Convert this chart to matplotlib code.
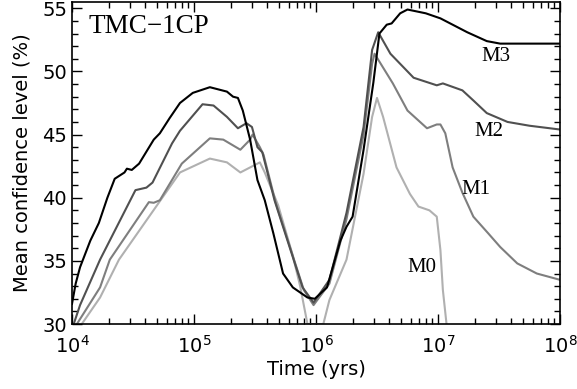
import numpy as np
import matplotlib
matplotlib.use('Agg')
import matplotlib.pyplot as plt
from matplotlib.ticker import MultipleLocator, LogLocator, NullFormatter

# log10(time / yr) and mean confidence level (%)
logt_M3 = [4.0, 4.03, 4.066, 4.15, 4.22, 4.29, 4.35, 4.43, 4.45, 4.49, 4.55,
           4.67, 4.72, 4.80, 4.885, 4.99, 5.13, 5.27, 5.32, 5.36, 5.40, 5.46,
           5.52, 5.58, 5.65, 5.73, 5.81, 5.93, 5.99, 6.09, 6.20, 6.25, 6.30,
           6.39, 6.47, 6.52, 6.58, 6.62, 6.69, 6.75, 6.90, 7.02, 7.24, 7.40,
           7.51, 8.0]
conf_M3 = [31.6, 33.2, 34.5, 36.6, 38.0, 40.0, 41.5, 42.0, 42.3, 42.2, 42.7,
           44.6, 45.1, 46.3, 47.5, 48.3, 48.75, 48.4, 48.0, 47.9, 46.9, 44.6,
           41.4, 39.8, 37.2, 34.0, 32.9, 32.1, 32.0, 32.9, 36.6, 37.7, 38.5,
           43.8, 49.1, 53.0, 53.7, 53.8, 54.6, 54.9, 54.6, 54.2, 53.1, 52.4,
           52.2, 52.2]

logt_M2 = [4.0, 4.066, 4.23, 4.52, 4.61, 4.66, 4.82, 4.885, 5.07, 5.16, 5.27,
           5.36, 5.43, 5.475, 5.52, 5.56, 5.66, 5.79, 5.89, 5.98, 6.11, 6.25,
           6.39, 6.46, 6.51, 6.61, 6.80, 6.99, 7.04, 7.20, 7.29, 7.40, 7.57,
           7.75, 8.0]
conf_M2 = [29.6, 31.5, 35.1, 40.6, 40.8, 41.2, 44.3, 45.3, 47.4, 47.3, 46.4,
           45.5, 45.9, 45.6, 44.0, 43.6, 39.8, 35.9, 32.9, 31.7, 33.5, 38.8,
           45.6, 51.7, 53.1, 51.4, 49.5, 48.9, 49.05, 48.5, 47.7, 46.7, 46.0,
           45.7, 45.4]

logt_M1 = [4.02, 4.04, 4.23, 4.31, 4.63, 4.67, 4.72, 4.90, 5.13, 5.24, 5.38,
           5.46, 5.48, 5.54, 5.57, 5.67, 5.80, 5.90, 5.98, 6.11, 6.25, 6.39,
           6.46, 6.48, 6.63, 6.75, 6.91, 6.99, 7.02, 7.06, 7.12, 7.20, 7.29,
           7.41, 7.51, 7.65, 7.81, 8.0]
conf_M1 = [29.6, 30.0, 32.9, 35.1, 39.65, 39.6, 39.8, 42.7, 44.7, 44.6, 43.8,
           44.6, 45.0, 44.0, 43.4, 39.6, 35.7, 32.7, 31.5, 33.2, 38.3, 45.0,
           50.6, 51.4, 49.05, 46.9, 45.5, 45.8, 45.8, 45.1, 42.4, 40.4, 38.5,
           37.2, 36.1, 34.8, 34.0, 33.5]

logt_M0 = [4.06, 4.08, 4.23, 4.385, 4.885, 5.13, 5.27, 5.38, 5.46, 5.54, 5.58,
           5.69, 5.81, 5.87, 5.93, 6.06, 6.11, 6.25, 6.39, 6.46, 6.50, 6.55,
           6.66, 6.77, 6.84, 6.93, 6.99, 7.02, 7.04, 7.07]
conf_M0 = [29.6, 30.0, 32.1, 35.1, 42.0, 43.1, 42.8, 42.0, 42.4, 42.8, 42.0,
           39.4, 35.4, 33.0, 30.0, 30.0, 31.9, 35.1, 41.9, 46.4, 47.9, 46.4,
           42.4, 40.3, 39.3, 39.0, 38.5, 35.85, 32.7, 30.0]

model_names = ['M0', 'M1', 'M2', 'M3']
label_logt = [6.87, 7.311, 7.418, 7.475]
label_conf = [34.5, 40.68, 45.27, 51.2]

curves = [(logt_M0, conf_M0, '#b0b0b0'),
          (logt_M1, conf_M1, '#7e7e7e'),
          (logt_M2, conf_M2, '#505050'),
          (logt_M3, conf_M3, '#000000')]

plt.rcParams['font.family'] = 'DejaVu Sans'
plt.rcParams['mathtext.default'] = 'regular'

fig = plt.figure(figsize=(5.77, 3.89), dpi=100)
ax = fig.add_axes([0.1248, 0.167, 0.8457, 0.828])

for logt, conf, col in curves:
    ax.plot(10**np.array(logt), conf, color=col, lw=1.5)

for name, lt, c in zip(model_names, label_logt, label_conf):
    ax.text(10**lt, c, name, family='Liberation Serif', fontsize=15,
            ha='center', va='center')

ax.text(0.033, 0.925, 'TMC\u22121CP', transform=ax.transAxes,
        family='Liberation Serif', fontsize=19.5, ha='left', va='center')

ax.set_xscale('log')
ax.set_xlim(1e4, 1e8)
ax.set_ylim(30, 55.5)
ax.yaxis.set_major_locator(MultipleLocator(5))
ax.yaxis.set_minor_locator(MultipleLocator(1))
ax.xaxis.set_minor_locator(LogLocator(base=10, subs=np.arange(2, 10)))
ax.xaxis.set_minor_formatter(NullFormatter())
ax.tick_params(which='both', direction='in', top=True, right=True,
               labelsize=14, width=1)
ax.tick_params(which='major', length=7)
ax.tick_params(which='minor', length=4)
ax.tick_params(axis='x', pad=8)
for s in ax.spines.values():
    s.set_linewidth(1.2)

ax.set_xlabel('Time (yrs)', fontsize=14, labelpad=2)
ax.set_ylabel('Mean confidence level (%)', fontsize=14, labelpad=8)

fig.savefig('out.png', dpi=100)
